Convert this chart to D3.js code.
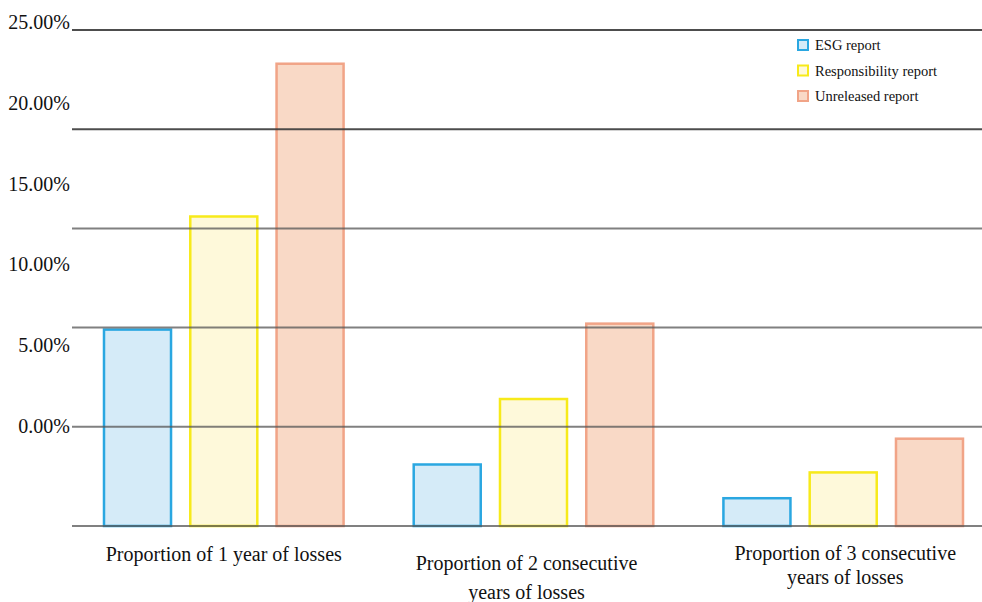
<!DOCTYPE html>
<html>
<head>
<meta charset="utf-8">
<script src="https://cdn.jsdelivr.net/npm/d3@7/dist/d3.min.js"></script>
<style>
  html, body { margin: 0; padding: 0; background: #fff; }
  svg text { font-family: "Liberation Serif", "DejaVu Serif", serif; }
</style>
</head>
<body>
<svg id="chart" width="982" height="602"></svg>
<script>
// Loss proportions by disclosure type
const categories = [
  ["Proportion of 1 year of losses"],
  ["Proportion of 2 consecutive", "years of losses"],
  ["Proportion of 3 consecutive", "years of losses"]
];
const seriesNames = ["ESG report", "Responsibility report", "Unreleased report"];
const esgValues = [9.9, 3.1, 1.4];
const responsibilityValues = [15.6, 6.4, 2.7];
const unreleasedValues = [23.3, 10.2, 4.4];
const tickValues = [0, 5, 10, 15, 20, 25];
const tickLabels = ["0.00%", "5.00%", "10.00%", "15.00%", "20.00%", "25.00%"];

const series = [esgValues, responsibilityValues, unreleasedValues];
const fills = ["#d5ebf8", "#fef9da", "#f9d9c6"];
const strokes = ["#2aa7e1", "#f7ea1a", "#f1a487"];
const FONT = "Liberation Serif, DejaVu Serif, serif";

const svg = d3.select("#chart");

const y = d3.scaleLinear().domain([0, 25]).range([526, 30]);
// tick labels sit on their own, tighter track to the left of the grid
const yLabel = d3.scaleLinear().domain([0, 25]).range([426, 22]);

const x0 = d3.scaleBand().domain(d3.range(categories.length)).range([103, 964]).paddingInner(0.22).paddingOuter(0);
const x1 = d3.scaleBand().domain(d3.range(seriesNames.length)).range([0, x0.bandwidth()]).paddingInner(0.2).paddingOuter(0);

// bars
const groups = svg.append("g").selectAll("g")
  .data(categories.map((c, i) => i))
  .join("g")
  .attr("transform", i => `translate(${x0(i)},0)`);

groups.selectAll("rect")
  .data(i => series.map((s, k) => ({ k, v: s[i] })))
  .join("rect")
  .attr("x", d => x1(d.k) + 1)
  .attr("width", x1.bandwidth() - 2)
  .attr("y", d => y(d.v))
  .attr("height", d => y(0) - y(d.v))
  .attr("fill", d => fills[d.k])
  .attr("stroke", d => strokes[d.k])
  .attr("stroke-width", 2.5);

// grid lines over the bars
svg.append("g").selectAll("line")
  .data(tickValues)
  .join("line")
  .attr("x1", 72).attr("x2", 982)
  .attr("y1", d => y(d)).attr("y2", d => y(d))
  .attr("stroke", d => d === 25 || d === 20 ? "#3a3a3a" : "#555")
  .attr("stroke-opacity", d => d === 25 || d === 20 ? 0.9 : 0.75)
  .attr("stroke-width", 2);

// y tick labels
svg.append("g").selectAll("text")
  .data(tickValues)
  .join("text")
  .attr("font-family", FONT)
  .attr("x", 70)
  .attr("y", d => yLabel(d))
  .attr("dy", "0.35em")
  .attr("text-anchor", "end")
  .attr("font-size", 20)
  .attr("fill", "#111")
  .text((d, i) => tickLabels[i]);

// category labels
const labelY = [554, 563, 553];
const lineGap = [0, 29, 24];
const labelDx = [0, -7, 2];
svg.append("g").selectAll("text")
  .data(categories.map((c, i) => i))
  .join("text")
  .attr("font-family", FONT)
  .attr("text-anchor", "middle")
  .attr("font-size", 20)
  .attr("fill", "#111")
  .each(function (i) {
    const t = d3.select(this);
    categories[i].forEach((line, j) => {
      t.append("tspan")
        .attr("x", x0(i) + x0.bandwidth() / 2 + labelDx[i])
        .attr("y", labelY[i] + j * lineGap[i])
        .attr("dy", "0.35em")
        .text(line);
    });
  });

// legend
const legend = svg.append("g").attr("transform", "translate(797,45)");
const items = legend.selectAll("g")
  .data(seriesNames)
  .join("g")
  .attr("transform", (d, i) => `translate(0,${i * 25.5})`);
items.append("rect")
  .attr("x", 1).attr("y", -5).attr("width", 10).attr("height", 10)
  .attr("fill", (d, i) => fills[i])
  .attr("stroke", (d, i) => strokes[i])
  .attr("stroke-width", 2);
items.append("text")
  .attr("font-family", FONT)
  .attr("x", 18).attr("y", 0).attr("dy", "0.35em")
  .attr("font-size", 14.5)
  .attr("fill", "#111")
  .text(d => d);
</script>
</body>
</html>
